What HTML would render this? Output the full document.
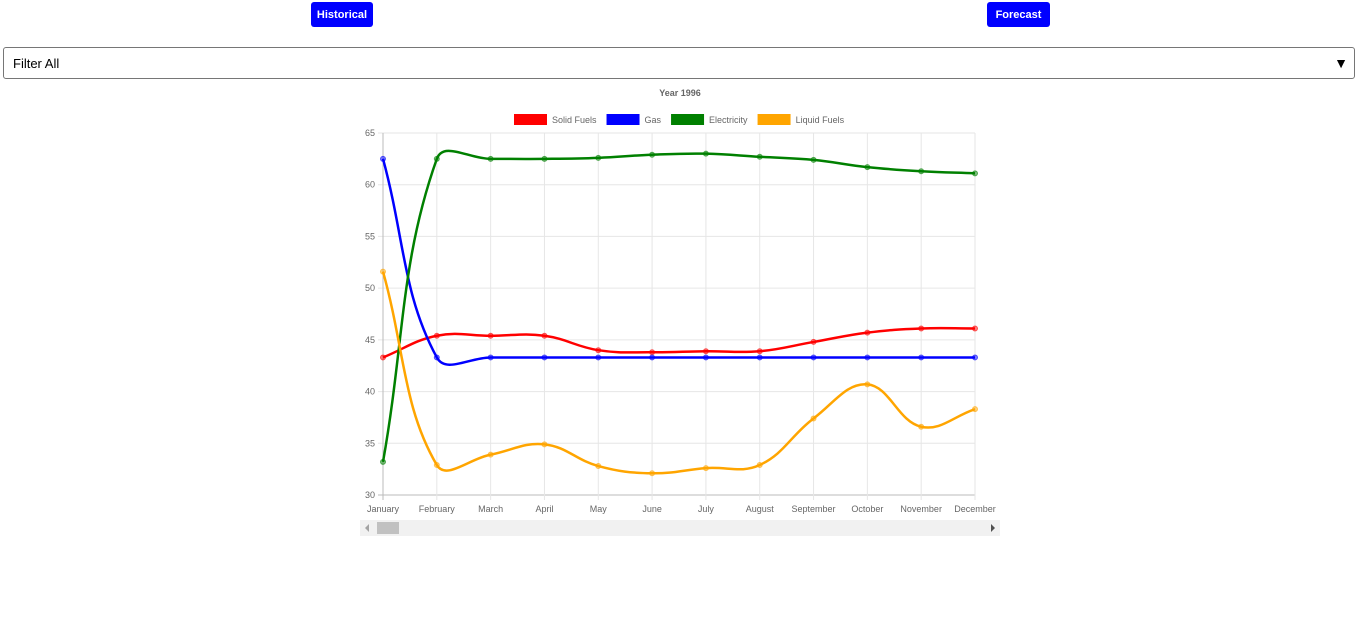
<!DOCTYPE html>
<html><head><meta charset="utf-8"><style>
body{margin:0;width:1358px;height:619px;background:#fff;font-family:"Liberation Sans",Arial,sans-serif;position:relative;overflow:hidden}
.btn{position:absolute;top:2px;height:25px;background:#0000ff;color:#fff;font-size:11px;font-weight:bold;border-radius:3px;display:flex;align-items:center;justify-content:center}
#filter{position:absolute;left:3px;top:47px;width:1352px;height:32px;border:1px solid #767676;border-radius:3px;box-sizing:border-box;font-size:13px;display:flex;align-items:center;padding-left:9px}
</style></head><body>
<div class="btn" style="left:311px;width:62px">Historical</div>
<div class="btn" style="left:987px;width:63px">Forecast</div>
<div id="filter">Filter All<span style="position:absolute;right:6px;font-size:14px">▼</span></div>
<svg id="chart" width="1358" height="619" style="position:absolute;left:0;top:0"></svg>
<div style="position:absolute;left:360px;top:520px;width:640px;height:16px;background:#f1f1f1">
<div style="position:absolute;left:17px;top:2px;width:22px;height:12px;background:#c1c1c1"></div>
<div style="position:absolute;left:5px;top:4px;width:0;height:0;border-top:4px solid transparent;border-bottom:4px solid transparent;border-right:4px solid #a3a3a3"></div>
<div style="position:absolute;right:5px;top:4px;width:0;height:0;border-top:4px solid transparent;border-bottom:4px solid transparent;border-left:4px solid #505050"></div>
</div>
<script>
const categories=["January","February","March","April","May","June","July","August","September","October","November","December"];
const solidFuels=[43.3,45.4,45.4,45.4,44.0,43.8,43.9,43.9,44.8,45.7,46.1,46.1];
const gas=[62.5,43.3,43.3,43.3,43.3,43.3,43.3,43.3,43.3,43.3,43.3,43.3];
const electricity=[33.2,62.5,62.5,62.5,62.6,62.9,63.0,62.7,62.4,61.7,61.3,61.1];
const liquidFuels=[51.6,32.9,33.9,34.9,32.8,32.1,32.6,32.9,37.4,40.7,36.6,38.3];
const yTicks=[30,35,40,45,50,55,60,65];
const seriesNames=["Solid Fuels","Gas","Electricity","Liquid Fuels"];
const seriesColors=["#ff0000","#0000ff","#008000","#ffa500"];
const seriesData=[solidFuels,gas,electricity,liquidFuels];

const svg=document.getElementById('chart');const NS="http://www.w3.org/2000/svg";
const L=383,R=975,T=133,B=495,yMin=30,yMax=65;
const xS=i=>L+(R-L)*i/(categories.length-1);
const yS=v=>B-(v-yMin)/(yMax-yMin)*(B-T);
function mk(tag,attrs,parent){const e=document.createElementNS(NS,tag);for(const k in attrs)e.setAttribute(k,attrs[k]);(parent||svg).appendChild(e);return e;}
// title
let t=mk('text',{x:680,y:96,'text-anchor':'middle','font-size':9,'font-weight':'bold',fill:'#666','font-family':'Liberation Sans'});t.textContent="Year 1996";


// grid
yTicks.forEach(v=>{const y=yS(v);
 const g=mk('line',{x1:L-5,x2:R,y1:y,y2:y,stroke:v===yMin?'#bbb':'#e6e6e6','stroke-width':1});
 
 
 const tx=mk('text',{x:L-8,y:y+3,'text-anchor':'end','font-size':9,fill:'#666','font-family':'Liberation Sans'});tx.textContent=v;
 
 });
categories.forEach((c,i)=>{const x=xS(i);
 const g=mk('line',{x1:x,x2:x,y1:T,y2:B+5,stroke:i===0?'#bbb':'#e6e6e6','stroke-width':1});
 
 
 const tx=mk('text',{x:x,y:B+17,'text-anchor':'middle','font-size':9,fill:'#666','font-family':'Liberation Sans'});tx.textContent=c;
 
 });
// legend
let lx=514;
seriesNames.forEach((n,i)=>{
 const r=mk('rect',{x:lx,y:114,width:33,height:11,fill:seriesColors[i]});
 
 
 const tx=mk('text',{x:lx+38,y:123,'font-size':9,fill:'#666','font-family':'Liberation Sans'});tx.textContent=n;
 
 
 lx+=38+tx.getComputedTextLength()+10;});
// series
function spline(pts){let d=`M${pts[0][0]},${pts[0][1]}`;const cps=pts.map((p,i)=>{const pr=pts[i-1]||p,nx=pts[i+1]||p;
 const d01=Math.hypot(p[0]-pr[0],p[1]-pr[1]),d12=Math.hypot(nx[0]-p[0],nx[1]-p[1]);const s=d01+d12||1;
 const fa=0.4*d01/s,fb=0.4*d12/s;return{p:[p[0]-fa*(nx[0]-pr[0]),p[1]-fa*(nx[1]-pr[1])],n:[p[0]+fb*(nx[0]-pr[0]),p[1]+fb*(nx[1]-pr[1])]};});
 for(let i=1;i<pts.length;i++){d+=` C${cps[i-1].n[0]},${cps[i-1].n[1]} ${cps[i].p[0]},${cps[i].p[1]} ${pts[i][0]},${pts[i][1]}`;}return d;}
seriesData.forEach((data,si)=>{const pts=data.map((v,i)=>[xS(i),yS(v)]);
 const p=mk('path',{d:spline(pts),fill:'none',stroke:seriesColors[si],'stroke-width':2.5});
 
 
 pts.forEach(q=>{const c=mk('circle',{cx:q[0],cy:q[1],r:2.5,fill:seriesColors[si],'fill-opacity':0.5,stroke:seriesColors[si],'stroke-opacity':0.6,'stroke-width':1});
 
 });});
</script>
</body></html>
